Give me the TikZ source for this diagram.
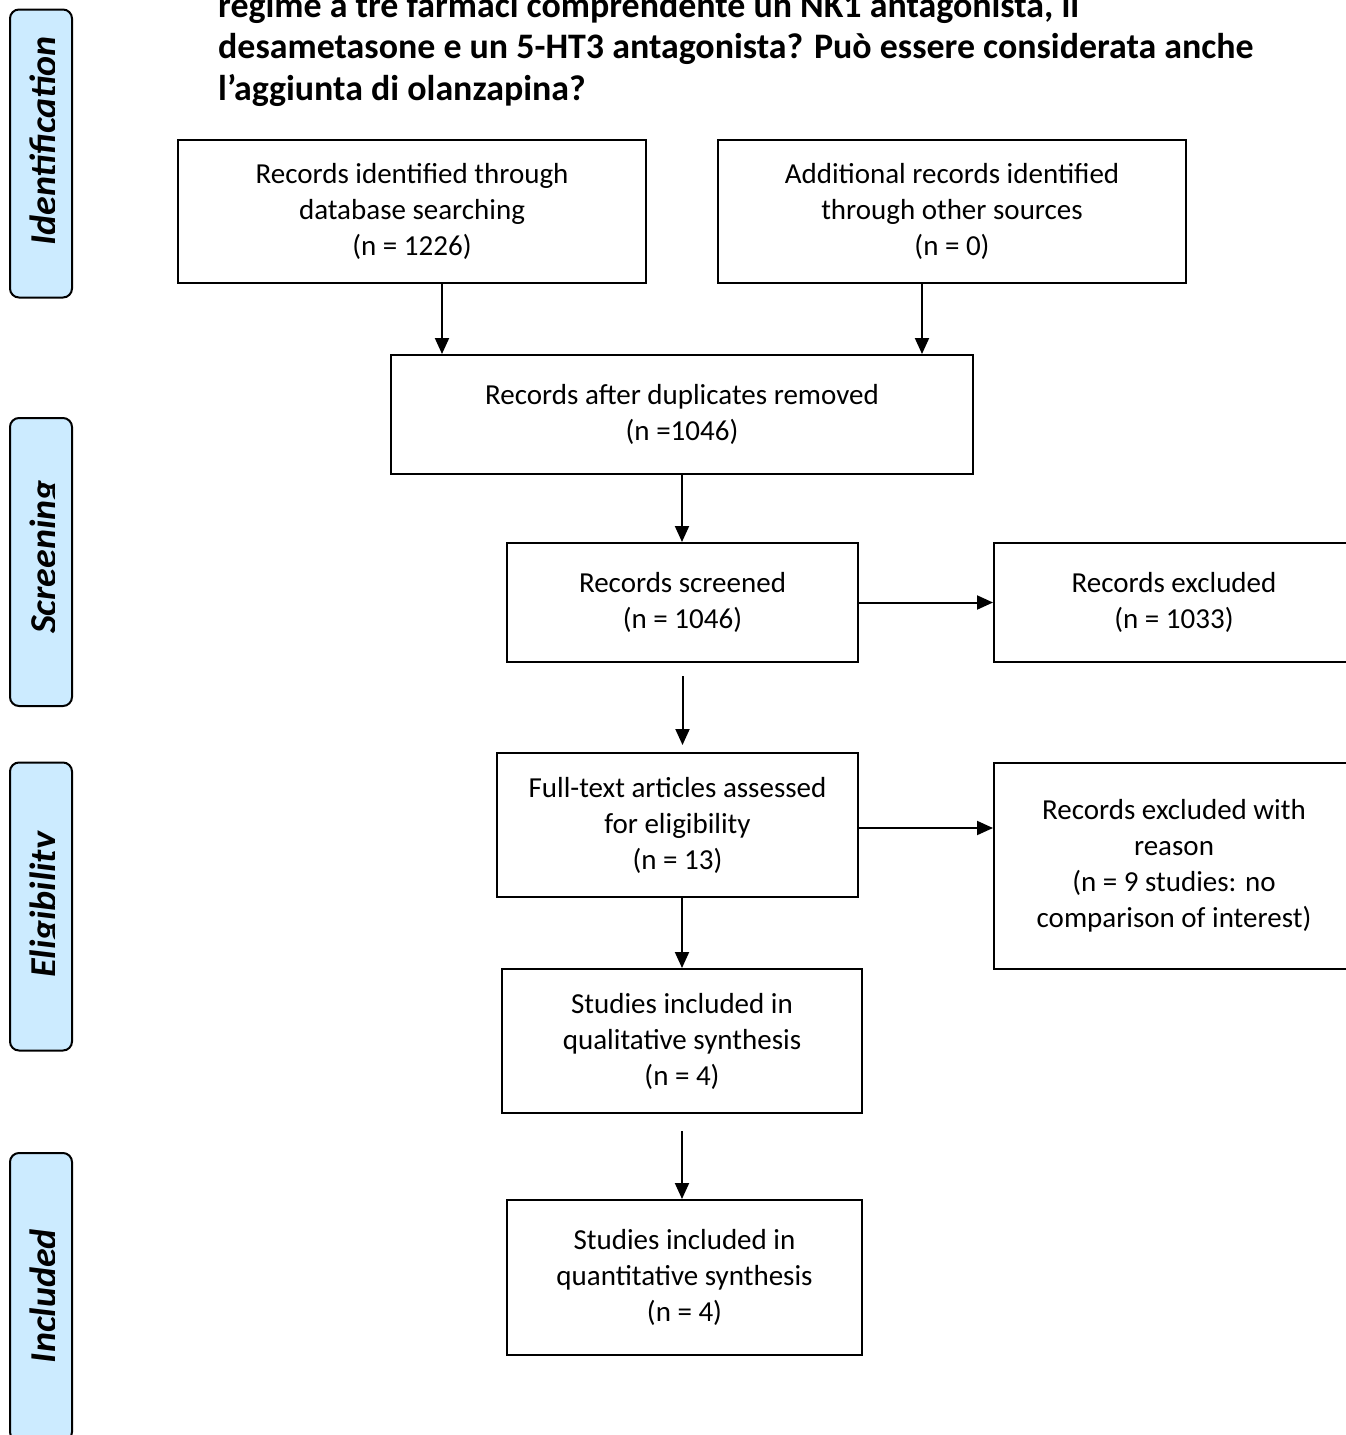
\documentclass[tikz,border=0pt]{standalone}
\usepackage{fontspec}
\setmainfont{Carlito}
\usetikzlibrary{arrows.meta}

\definecolor{phaseblue}{HTML}{CCEBFF}
\newcommand{\boxfont}{\fontsize{29}{36}\selectfont}
\newcommand{\titlefont}{\fontsize{35.9}{41.5}\selectfont\bfseries}
\newcommand{\phasefont}{\fontsize{38}{42}\selectfont\bfseries\itshape}

\begin{document}
\begin{tikzpicture}[
  x=1pt, y=-1pt,
  block/.style={rectangle, draw, line width=2pt, align=center, inner sep=0pt, font=\boxfont},
  phase/.style={rectangle, draw, rounded corners=9pt, fill=phaseblue, line width=2pt, inner sep=0pt, minimum width=62pt, minimum height=288pt},
  phaselabel/.style={rotate=90, anchor=base, inner sep=0pt, font=\phasefont},
  arrow/.style={-{Triangle[length=16pt,width=14pt]}, line width=2pt}
]
\useasboundingbox (0,0) rectangle (1346,1435);

% title (first line cut by the page)
\node[anchor=base west, align=left, inner sep=0pt, font=\titlefont] (title) at (218,100)
  {regime a tre farmaci comprendente un NK1 antagonista, il\\
   desametasone e un 5-HT3 antagonista? Può essere considerata anche\\
   l’aggiunta di olanzapina?};

% phases
\node[phase] (idph) at (41,153.5) {};
\node[phase] (scph) at (41,562) {};
\node[phase] (elph) at (41,906.5) {};
\node[phase] (inph) at (41,1297) {};
\begin{scope}
\clip (0,0) rectangle (54.5,1435);
\node[phaselabel] (idlab) at (56,141) {Identification};
\node[phaselabel] (sclab) at (56,557) {Screening};
\node[phaselabel] (ellab) at (56,905) {Eligibility};
\node[phaselabel] (inlab) at (56,1296) {Included};
\end{scope}

% boxes
\node[block, minimum width=468pt, minimum height=143pt] (ids) at (412,211.5) {Records identified through\\database searching\\(n = 1226)};
\node[block, minimum width=468pt, minimum height=143pt] (other) at (952,211.5) {Additional records identified\\through other sources\\(n = 0)};
\node[block, minimum width=582pt, minimum height=119pt] (dup) at (682,414.5) {Records after duplicates removed\\(n =1046)};
\node[block, minimum width=351pt, minimum height=119pt] (screen) at (682.5,602.5) {Records screened\\(n = 1046)};
\node[block, minimum width=360pt, minimum height=119pt] (excl) at (1174,602.5) {Records excluded\\(n = 1033)};
\node[block, minimum width=361pt, minimum height=144pt] (full) at (677.5,825) {Full-text articles assessed\\for eligibility\\(n = 13)};
\node[block, minimum width=360pt, minimum height=206pt] (reason) at (1174,866) {Records excluded with\\reason\\(n = 9 studies: no\\comparison of interest)};
\node[block, minimum width=360pt, minimum height=144pt] (qual) at (682,1041) {Studies included in\\qualitative synthesis\\(n = 4)};
\node[block, minimum width=355pt, minimum height=155pt] (quant) at (684.5,1277.5) {Studies included in\\quantitative synthesis\\(n = 4)};

% connectors
\draw[arrow] ([xshift=30pt]ids.south) -- ([xshift=30pt]ids.south |- dup.north);
\draw[arrow] ([xshift=-30pt]other.south) -- ([xshift=-30pt]other.south |- dup.north);
\draw[arrow] (dup.south) -- (dup.south |- screen.north);
\draw[arrow] (screen.east) -- (excl.west);
\draw[arrow, shorten >=7pt] ([yshift=-13pt]screen.south) -- (screen.south |- full.north);
\draw[arrow] ([yshift=-3pt]full.east) -- ([yshift=-3pt]full.east -| reason.west);
\draw[arrow] (full.south -| qual.north) -- (qual.north);
\draw[arrow] ([yshift=-17pt]qual.south) -- (qual.south |- quant.north);
\end{tikzpicture}
\end{document}
